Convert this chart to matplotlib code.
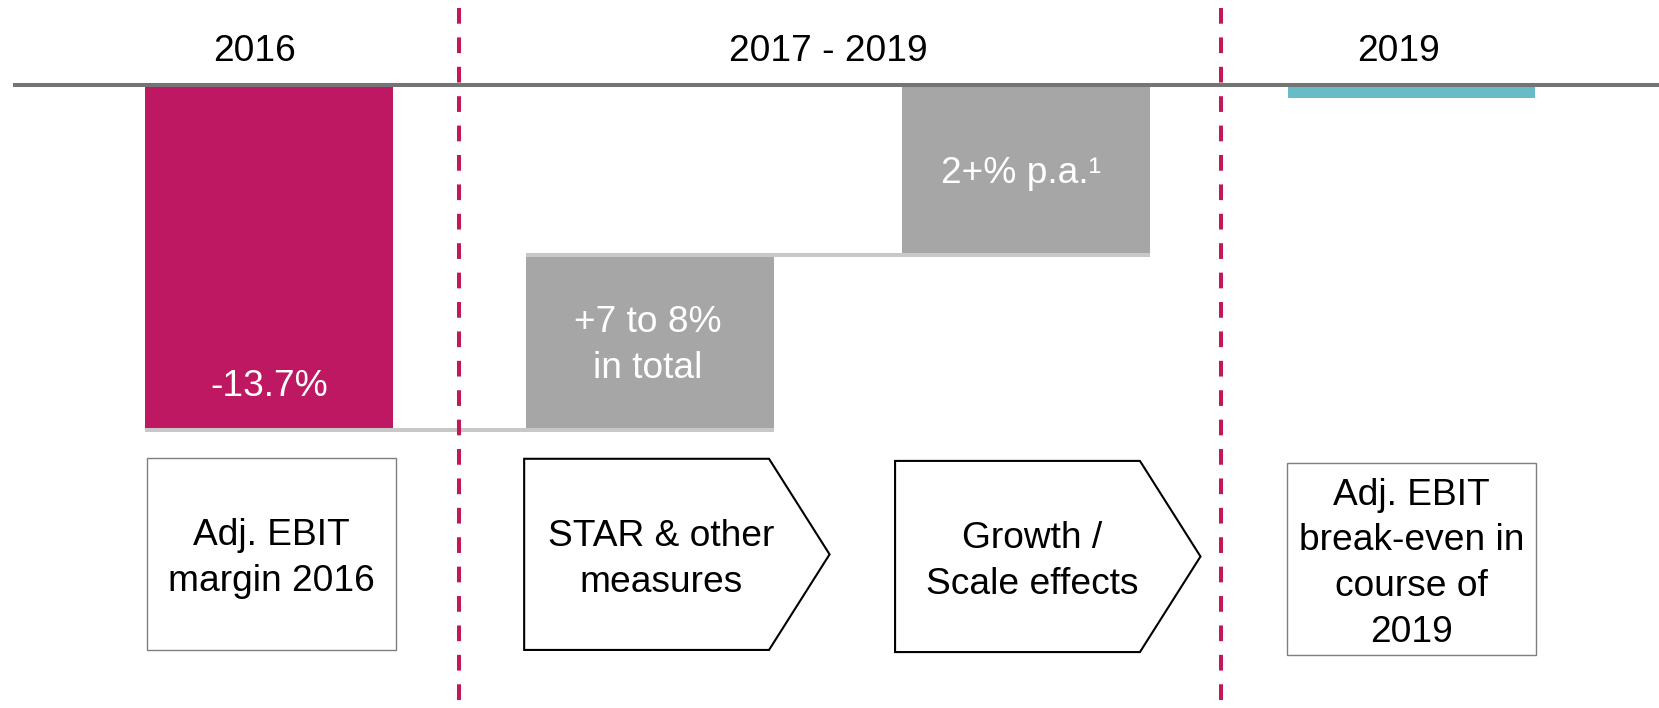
import matplotlib
matplotlib.use("Agg")
import matplotlib.pyplot as plt
import matplotlib.transforms as mtransforms
from matplotlib.patches import Polygon, Rectangle

plt.rcParams['font.family'] = ['Liberation Sans', 'DejaVu Sans']

# ---------------- data ----------------
period_labels = ["2016", "2017 - 2019", "2019"]
start_value = -13.7            # adj. EBIT margin 2016 (%)
step_values = [7.0, 6.7]       # STAR & other measures, growth / scale effects
end_marker = -0.5              # break-even marker thickness (%)
bar_texts = ["-13.7%", "+7 to 8%\nin total", "2+% p.a.\u00b9"]
box_texts = ["Adj. EBIT\nmargin 2016", "STAR & other\nmeasures",
             "Growth /\nScale effects", "Adj. EBIT\nbreak-even in\ncourse of\n2019"]

# ---------------- style ----------------
MAGENTA = "#BE1862"
GREY_BAR = "#A6A6A6"
CYAN = "#67BCC8"
CONNECT = "#C8C8C8"
AXISLINE = "#747474"
FS = 26.7
LS = 1.4
W = 0.65

fig = plt.figure(figsize=(16.59, 7.08), dpi=100)
ax = fig.add_axes([0, 0, 1, 1])
ax.set_xlim(-0.7064, 3.650)
ax.set_ylim(-24.88, 3.395)
ax.axis("off")

x = [0, 1, 2, 3]

# text transforms nudged down slightly (optical centring)
tr = ax.get_xaxis_transform()
td = mtransforms.offset_copy(ax.transData, fig=fig, x=0, y=-3.5, units="points")
tx = mtransforms.offset_copy(tr, fig=fig, x=0, y=-3.5, units="points")

# baseline (top axis)
ax.hlines(0, -0.672, 3.650, color=AXISLINE, lw=2.9, zorder=4)

# waterfall bars
b1_bottom = start_value
b1_top = start_value + step_values[0]
b2_top = b1_top + step_values[1]
ax.bar(x[0], start_value, bottom=0, width=W, color=MAGENTA, zorder=2)
ax.bar(x[1], step_values[0], bottom=b1_bottom, width=W, color=GREY_BAR, zorder=2)
ax.bar(x[2] - 0.012, step_values[1], bottom=b1_top, width=W, color=GREY_BAR, zorder=2)
ax.bar(x[3], end_marker, bottom=0, width=W, color=CYAN, zorder=2)

# connectors (drawn just below the level they connect)
down = mtransforms.offset_copy(ax.transData, fig=fig, x=0, y=-1.5, units="points")
ax.hlines(start_value, x[0] - W / 2, x[1] + W / 2, color=CONNECT, lw=2.9,
          zorder=3, transform=down)
ax.hlines(b1_top, x[1] - W / 2, x[2] - 0.012 + W / 2, color=CONNECT, lw=2.9,
          zorder=3, transform=down)

# dashed separators
for xs in (0.5, 2.5):
    ax.plot([xs, xs], [3.06, -24.88], color="#C2185B", lw=2.9,
            linestyle=(0, (3.9, 3.4)), zorder=5, dash_capstyle="butt")

# in-bar labels
ax.annotate(bar_texts[0], (x[0], start_value), xytext=(0, 30), textcoords="offset points",
            ha="center", va="center", color="white", fontsize=FS, zorder=6)
ax.text(x[1] - 0.006, (b1_bottom + b1_top) / 2, bar_texts[1], transform=td,
        ha="center", va="center", color="white", fontsize=FS, linespacing=LS, zorder=6)
ax.text(x[2] - 0.025, (b1_top + b2_top) / 2, bar_texts[2], transform=td,
        ha="center", va="center", color="white", fontsize=FS, zorder=6)

# period headings
ax.text(-0.037, 0.9336, period_labels[0], transform=tx, ha="center", va="center", fontsize=FS)
ax.text(1.468, 0.9336, period_labels[1], transform=tx, ha="center", va="center", fontsize=FS)
ax.text(2.965, 0.9336, period_labels[2], transform=tx, ha="center", va="center", fontsize=FS)

# bottom boxes
def box(xc, y0, y1, text):
    ax.add_patch(Rectangle((xc - 0.327, y0), 0.654, y1 - y0, transform=tr,
                           facecolor="white", edgecolor="#7F7F7F", lw=1.0, zorder=3))
    ax.text(xc, (y0 + y1) / 2, text, transform=tx, ha="center", va="center",
            fontsize=FS, linespacing=LS, zorder=4)

def arrow(left, y0, y1, text):
    length, shoulder = 0.802, 0.643
    ym = (y0 + y1) / 2
    pts = [(left, y0), (left + shoulder, y0), (left + length, ym),
           (left + shoulder, y1), (left, y1)]
    ax.add_patch(Polygon(pts, closed=True, transform=tr, facecolor="white",
                         edgecolor="black", lw=1.5, zorder=3, joinstyle="miter"))
    ax.text(left + 0.45 * length, ym, text, transform=tx, ha="center", va="center",
            fontsize=FS, linespacing=LS, zorder=4)

box(x[0] + 0.007, 0.082, 0.353, box_texts[0])
arrow(x[1] - 0.33, 0.082, 0.352, box_texts[1])
arrow(x[2] - 0.356, 0.079, 0.349, box_texts[2])
box(x[3], 0.075, 0.346, box_texts[3])

fig.savefig("out.png", dpi=100)
